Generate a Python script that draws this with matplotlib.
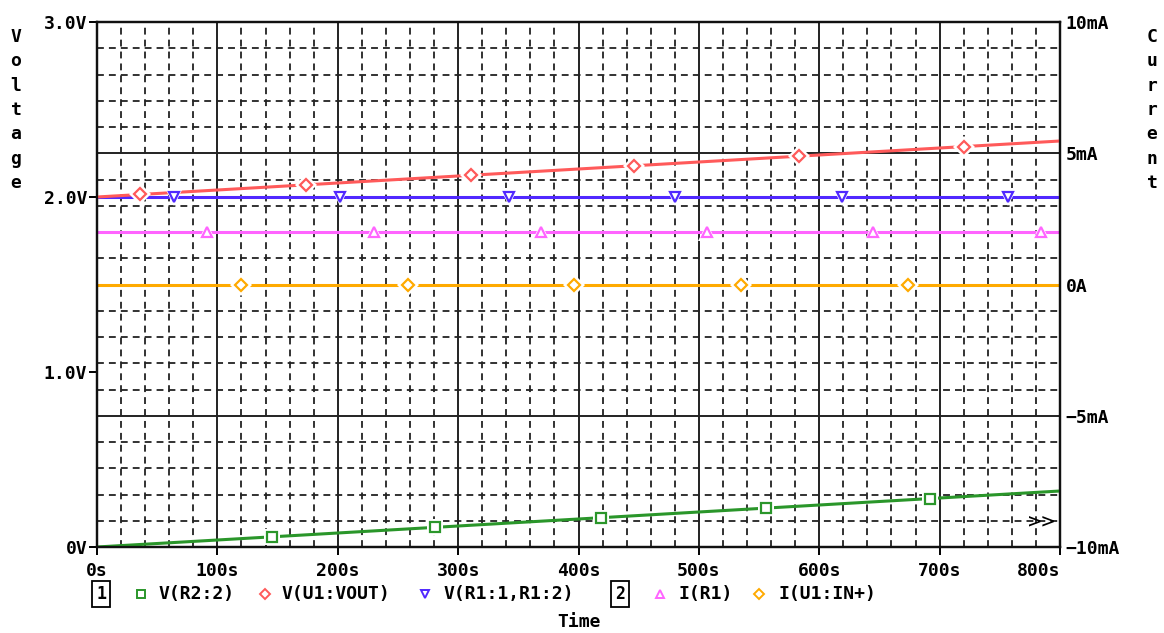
import numpy as np
import matplotlib
matplotlib.use("Agg")
import matplotlib.pyplot as plt
from matplotlib.lines import Line2D
from matplotlib.ticker import FixedLocator, MultipleLocator

plt.rcParams['font.family'] = 'DejaVu Sans Mono'
plt.rcParams['font.weight'] = 'bold'
plt.rcParams['font.size'] = 13

# simulation time (s)
time_s = [0, 800]

# voltage traces (V), left axis
v_r2_2 = [0.0, 0.32]
v_u1_vout = [2.0, 2.32]
v_r1 = [2.0, 2.0]

# current traces (mA), right axis
i_r1 = [2.0, 2.0]
i_u1_in = [0.0, 0.0]

# times where each trace carries its symbol (s)
mark_r2_2 = [145, 281, 419, 556, 692]
mark_vout = [36, 174, 311, 446, 583, 720]
mark_r1v = [64, 202, 342, 480, 619, 757]
mark_ir1 = [91, 230, 369, 507, 645, 784]
mark_in = [120, 258, 396, 535, 674]

x_ticks = [0, 100, 200, 300, 400, 500, 600, 700, 800]
x_labels = ['0s', '100s', '200s', '300s', '400s', '500s', '600s', '700s', '800s']
v_ticks = [0, 1, 2, 3]
v_labels = ['0V', '1.0V', '2.0V', '3.0V']
i_ticks = [-10, -5, 0, 5, 10]
i_labels = ['\u221210mA', '\u22125mA', '0A', '5mA', '10mA']

GREEN = '#2a962a'
RED = '#ff5a5a'
BLUE = '#5028ff'
MAGENTA = '#ff64ff'
ORANGE = '#ffaa00'
GRID = '#222222'

W, H = 1164, 633


def trace(ax, t, y, marks, color, marker, ms=7.5):
    ax.plot(t, y, color=color, lw=2.2, zorder=2, solid_capstyle='butt')
    my = np.interp(marks, t, y)
    ax.plot(marks, my, ls='none', marker=marker, ms=ms + 5, mfc='white',
            mec='white', mew=0, zorder=3)
    ax.plot(marks, my, ls='none', marker=marker, ms=ms, mfc='white',
            mec=color, mew=1.6, zorder=4)


fig = plt.figure(figsize=(W / 100, H / 100), dpi=100)
ax = fig.add_axes([97 / W, 1 - 547 / H, 963 / W, 525 / H])
ax2 = ax.twinx()
ax.set_zorder(ax2.get_zorder() + 1)
ax.patch.set_visible(False)

ax.set_xlim(0, 800)
ax.set_ylim(0, 3)
ax2.set_ylim(-10, 10)

ax.xaxis.set_major_locator(FixedLocator(x_ticks))
ax.xaxis.set_minor_locator(MultipleLocator(20))
ax.set_xticklabels(x_labels)
ax.set_yticks(v_ticks, v_labels)
ax2.set_yticks(i_ticks, i_labels)
ax2.yaxis.set_minor_locator(MultipleLocator(1))

# grid lives on the current axis, behind everything
ax2.xaxis.set_visible(True)
ax2.tick_params(axis='x', which='both', bottom=False, top=False,
                labelbottom=False, labeltop=False)
ax2.grid(which='major', color=GRID, lw=1.4, ls='-')
ax2.grid(which='minor', color=GRID, lw=1.3, ls=(0, (3.8, 2.8)))

ax.tick_params(axis='y', direction='out', length=6, width=1.4, pad=1)
ax.tick_params(axis='x', which='major', direction='out', length=6, width=1.4, pad=5)
ax.tick_params(axis='x', which='minor', length=0)
ax2.tick_params(axis='y', which='both', length=0, pad=4)
for a in (ax, ax2):
    for s in a.spines.values():
        s.set_linewidth(1.6)
        s.set_color('#111111')
ax.get_xticklabels()[-1].set_horizontalalignment('right')

trace(ax2, time_s, i_u1_in, mark_in, ORANGE, 'D', 6.5)
trace(ax2, time_s, i_r1, mark_ir1, MAGENTA, '^')
trace(ax, time_s, v_r1, mark_r1v, BLUE, 'v')
trace(ax, time_s, v_u1_vout, mark_vout, RED, 'D', 6.5)
trace(ax, time_s, v_r2_2, mark_r2_2, GREEN, 's', 7)

ax.text(1041 / W, 1 - 522 / H, '>>', transform=fig.transFigure,
        ha='center', va='center', fontweight='normal', fontsize=16, zorder=5)

# axis titles
fig.text(16 / W, 1 - 110 / H, '\n'.join('Voltage'), ha='center', va='center',
         linespacing=1.45)
fig.text(1152 / W, 1 - 110 / H, '\n'.join('Current'), ha='center', va='center',
         linespacing=1.45)
fig.text(579 / W, 1 - 622 / H, 'Time', ha='center', va='center')

# legend row
ly = 1 - 594 / H
box = dict(boxstyle='square,pad=0.25', fc='white', ec='black', lw=1.3)
fig.text(101 / W, ly, '1', ha='center', va='center', fontsize=12, bbox=box)
fig.text(620 / W, ly, '2', ha='center', va='center', fontsize=12, bbox=box)
legend_items = [
    (141, 159, 'V(R2:2)', GREEN, 's', 5.5),
    (265, 282, 'V(U1:VOUT)', RED, 'D', 5),
    (425, 443, 'V(R1:1,R1:2)', BLUE, 'v', 6),
    (660, 678, 'I(R1)', MAGENTA, '^', 6),
    (759, 778, 'I(U1:IN+)', ORANGE, 'D', 5),
]
for mx, tx, name, color, marker, ms in legend_items:
    fig.add_artist(Line2D([mx / W], [ly], transform=fig.transFigure, ls='none',
                          marker=marker, ms=ms, mfc='white', mec=color, mew=1.4))
    fig.text(tx / W, ly, name, ha='left', va='center')

fig.savefig('out.png', dpi=100)
